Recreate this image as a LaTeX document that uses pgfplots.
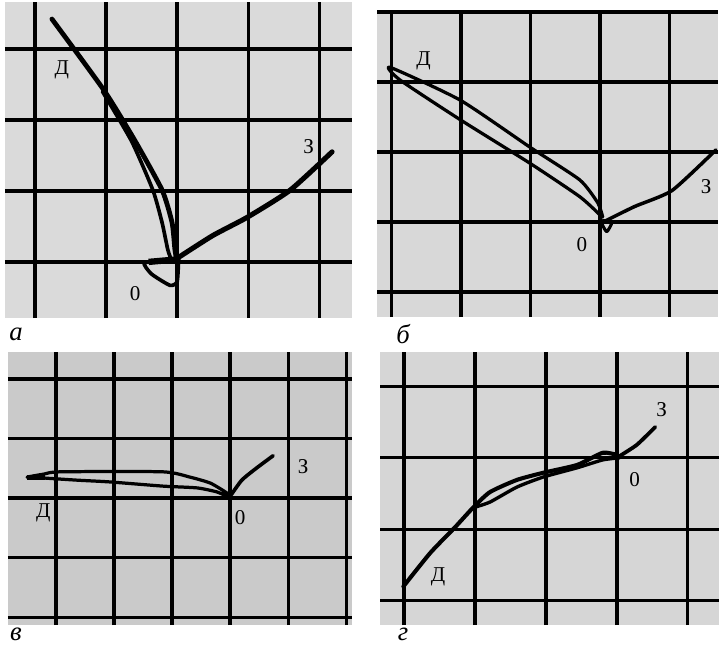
\documentclass[border=0pt]{standalone}
\usepackage{fontspec}
\setmainfont{Liberation Serif}
\usepackage{pgfplots}
\pgfplotsset{compat=1.18}
\definecolor{bgA}{RGB}{218,218,218}
\definecolor{bgB}{RGB}{216,216,216}
\definecolor{bgC}{RGB}{202,202,202}
\definecolor{bgD}{RGB}{214,214,214}
\pgfplotsset{
  panel/.style={
    scale only axis, anchor=south west,
    axis line style={draw=none},
    major tick length=0pt,
    xticklabels={}, yticklabels={},
    grid=major,
    major grid style={black, line width=2.4pt},
    clip=false,
  },
  curve/.style={black, line width=#1, smooth, tension=0.35, no markers, line join=round, line cap=round},
}
\newcommand{\lab}{\fontsize{15}{17}\selectfont}
\newcommand{\plab}{\fontsize{19}{21}\selectfont\itshape}
\begin{document}
\begin{tikzpicture}
\useasboundingbox (0,0) rectangle (17.975cm,16.15cm);
% ---------- a ----------
\begin{axis}[panel, at={(0.125cm,8.2cm)}, width=8.675cm, height=7.9cm,
  xmin=-2.42, xmax=2.46, ymin=-0.79, ymax=3.66,
  xtick={-2,-1,0,1,2}, ytick={0,1,2,3},
  axis background/.style={fill=bgA}]
\addplot[curve=3.4pt] coordinates {(0,0) (-0.03,0.17) (-0.07,0.55) (-0.21,1.01) (-0.6,1.72) (-1.03,2.42) (-1.76,3.42)};
\addplot[curve=2.6pt] coordinates {(-1.05,2.40) (-0.64,1.70) (-0.34,1.01) (-0.21,0.55) (-0.13,0.17) (-0.07,0)};
\addplot[curve=2.6pt] coordinates {(-0.07,0) (-0.46,-0.01) (-0.36,-0.17) (-0.1,-0.33) (0,-0.28) (0.02,0)};
\addplot[black, line width=4.5pt, no markers] coordinates {(-0.4,0) (0.05,0.04)};
\addplot[curve=3.6pt] coordinates {(0,0.05) (0.5,0.37) (0.99,0.63) (1.59,1.01) (2.18,1.55)};
\node[font=\lab] at (axis cs:-1.62,2.70) {Д};
\node[font=\lab] at (axis cs:1.85,1.62) {З};
\node[font=\lab] at (axis cs:-0.59,-0.44) {0};
\end{axis}
% ---------- b ----------
\begin{axis}[panel, at={(9.425cm,8.225cm)}, width=8.525cm, height=7.675cm,
  xmin=-3.21, xmax=1.70, ymin=-1.36, ymax=3.03,
  xtick={-3,-2,-1,0,1}, ytick={-1,0,1,2,3},
  axis background/.style={fill=bgB}]
\addplot[curve=2.3pt] coordinates {(0.04,0.07) (-0.03,0.27) (-0.29,0.6) (-1.01,1.07) (-2.01,1.74) (-3.02,2.21) (-2.88,2.03) (-2.01,1.46) (-1.01,0.84) (-0.29,0.36) (0,0.1)};
\addplot[curve=2.2pt] coordinates {(0,0.1) (0.04,-0.05) (0.1,-0.14) (0.17,-0.01) (0.05,0.02)};
\addplot[curve=2.5pt] coordinates {(0.05,0) (0.5,0.22) (1.04,0.45) (1.67,1.03)};
\node[font=\lab] at (axis cs:-2.54,2.31) {Д};
\node[font=\lab] at (axis cs:1.53,0.5) {З};
\node[font=\lab] at (axis cs:-0.26,-0.33) {0};
\end{axis}
% ---------- v ----------
\begin{axis}[panel, at={(0.2cm,0.525cm)}, width=8.6cm, height=6.825cm,
  xmin=-3.83, xmax=2.10, ymin=-2.13, ymax=2.45,
  xtick={-3,-2,-1,0,1,2}, ytick={-2,-1,0,1,2},
  axis background/.style={fill=bgC}]
\addplot[curve=2.3pt] coordinates {(0,0) (-0.05,0.08) (-0.34,0.25) (-0.69,0.35) (-1.16,0.44) (-2.93,0.44) (-3.22,0.40) (-3.5,0.35) (-3.28,0.34) (-2.64,0.30) (-2.07,0.27) (-1.16,0.2) (-0.57,0.17) (-0.22,0.1) (0,0)};
\addplot[black, line width=3.6pt, no markers] coordinates {(-3.5,0.35) (-3.2,0.35)};
\addplot[curve=2.6pt] coordinates {(0,0.03) (0.2,0.3) (0.45,0.5) (0.74,0.71)};
\node[font=\lab] at (axis cs:-3.22,-0.25) {Д};
\node[font=\lab] at (axis cs:1.26,0.53) {З};
\node[font=\lab] at (axis cs:0.17,-0.32) {0};
\end{axis}
% ---------- g ----------
\begin{axis}[panel, at={(9.5cm,0.525cm)}, width=8.475cm, height=6.825cm,
  xmin=-3.34, xmax=1.44, ymin=-2.34, ymax=1.48,
  xtick={-3,-2,-1,0,1}, ytick={-2,-1,0,1},
  axis background/.style={fill=bgD}]
\addplot[curve=2.9pt] coordinates {(-3.01,-1.80) (-2.63,-1.33) (-2.28,-0.97) (-2.03,-0.70) (-1.79,-0.48) (-1.41,-0.31) (-1.04,-0.21) (-0.56,-0.1) (-0.2,0.07) (0,0.04)};
\addplot[curve=2.4pt] coordinates {(-2.03,-0.70) (-1.79,-0.62) (-1.41,-0.41) (-1.04,-0.27) (-0.56,-0.14) (-0.2,-0.03) (0.04,0)};
\addplot[curve=2.7pt] coordinates {(0,0) (0.28,0.18) (0.54,0.43)};
\node[font=\lab] at (axis cs:-2.52,-1.66) {Д};
\node[font=\lab] at (axis cs:0.63,0.67) {З};
\node[font=\lab] at (axis cs:0.25,-0.31) {0};
\end{axis}
\node[font=\plab] at (0.4cm,7.8cm) {а};
\node[font=\plab] at (10.075cm,7.8cm) {б};
\node[font=\plab] at (0.4cm,0.3cm) {в};
\node[font=\plab] at (10.075cm,0.3cm) {г};
\end{tikzpicture}
\end{document}
